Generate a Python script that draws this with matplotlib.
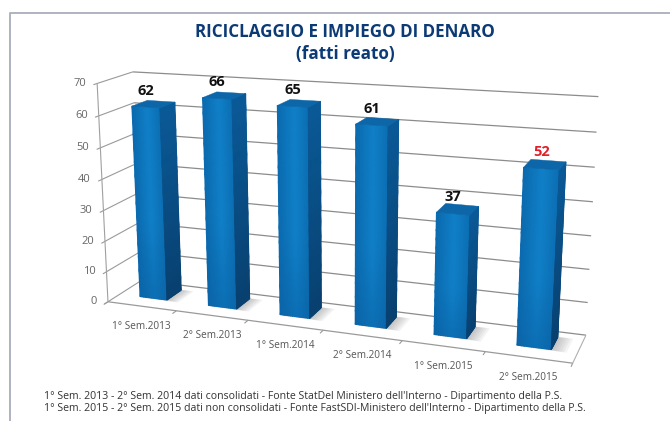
import numpy as np
import matplotlib
matplotlib.use('Agg')
import matplotlib.pyplot as plt
from matplotlib.colors import LinearSegmentedColormap
from matplotlib.patches import Polygon

plt.rcParams['font.family'] = ['Open Sans', 'DejaVu Sans']

categories = ['1° Sem.2013', '2° Sem.2013', '1° Sem.2014',
              '2° Sem.2014', '1° Sem.2015', '2° Sem.2015']
values = [62, 66, 65, 61, 37, 52]
label_colors = ['#111111', '#111111', '#111111', '#111111', '#111111', '#e0202c']
y_ticks = [0, 10, 20, 30, 40, 50, 60, 70]

title_1 = 'RICICLAGGIO E IMPIEGO DI DENARO'
title_2 = '(fatti reato)'
note_1 = "1° Sem. 2013 - 2° Sem. 2014 dati consolidati - Fonte StatDel Ministero dell'Interno - Dipartimento della P.S."
note_2 = "1° Sem. 2015 - 2° Sem. 2015 dati non consolidati - Fonte FastSDI-Ministero dell'Interno - Dipartimento della P.S."

# bar footprint, in category units and in floor depth (0 front, 1 back)
half_w = 0.2
d_front, d_back = 0.35, 0.8

# camera fit: (category pos, depth, value) -> pixel in the figure
calib = [
    (0, 0, 0, 110, 301), (0, 0, 70, 96, 81), (0, 1, 0, 140, 284), (0, 1, 70, 137, 70),
    (6, 1, 0, 586, 332), (6, 1, 70, 600, 95), (6, 0, 0, 572, 364),
    (1, 0, 0, 177, 312), (2, 0, 0, 248, 322), (3, 0, 0, 323, 332),
    (4, 0, 0, 402, 341), (5, 0, 0, 484, 352),
    (0, 0, 30, 104, 210), (6, 1, 30, 592, 234),
    (0.3, d_front, 62, 132, 107), (0.7, d_front, 62, 160, 107), (0.3, d_front, 0, 140, 297),
    (1.3, d_front, 66, 203, 98), (1.7, d_front, 66, 232, 98), (1.3, d_front, 0, 209, 305),
    (2.3, d_front, 65, 277, 107), (2.7, d_front, 65, 308, 107), (2.3, d_front, 0, 281, 314),
    (3.3, d_front, 61, 357, 124), (3.7, d_front, 61, 388, 126), (3.3, d_front, 0, 356, 324),
    (4.3, d_front, 37, 437, 214), (4.7, d_front, 37, 472, 215), (4.3, d_front, 0, 434, 335),
    (5.3, d_front, 52, 524, 166), (5.7, d_front, 52, 557, 168), (5.3, d_front, 0, 517, 345),
    (0.7, d_front, 0, 163, 299), (1.7, d_front, 0, 238, 308), (2.7, d_front, 0, 310, 318),
    (3.7, d_front, 0, 387, 328), (4.7, d_front, 0, 467, 339), (5.7, d_front, 0, 551, 349),
    (0.7, d_back, 62, 173, 103), (0.7, d_back, 0, 181, 288),
    (1.7, d_back, 66, 244, 95), (1.7, d_back, 0, 249, 297),
    (2.7, d_back, 65, 319, 103), (2.7, d_back, 0, 321, 307),
    (3.7, d_back, 61, 398, 122), (3.7, d_back, 0, 397, 317),
    (4.7, d_back, 37, 477, 210), (4.7, d_back, 0, 475, 328),
    (5.7, d_back, 52, 565, 163), (5.7, d_back, 0, 559, 338),
]


def fit_camera(points):
    A, b = [], []
    for x, d, v, px, py in points:
        A.append([x, d, v, 1, 0, 0, 0, 0, -px * x, -px * d, -px * v])
        b.append(px)
        A.append([0, 0, 0, 0, x, d, v, 1, -py * x, -py * d, -py * v])
        b.append(py)
    p = np.linalg.lstsq(np.array(A, float), np.array(b, float), rcond=None)[0]
    return np.append(p, 1).reshape(3, 4)


cam = fit_camera(calib)


def proj(x, d, v):
    x, d, v = np.broadcast_arrays(x, d, v)
    w = cam[2, 0] * x + cam[2, 1] * d + cam[2, 2] * v + cam[2, 3]
    px = (cam[0, 0] * x + cam[0, 1] * d + cam[0, 2] * v + cam[0, 3]) / w
    py = (cam[1, 0] * x + cam[1, 1] * d + cam[1, 2] * v + cam[1, 3]) / w
    return px, py


def seg(ax, a, b, color='#8c8c8c', lw=0.9):
    xa, ya = proj(*a)
    xb, yb = proj(*b)
    ax.plot([xa, xb], [ya, yb], color=color, lw=lw, solid_capstyle='butt', zorder=1)


fig = plt.figure(figsize=(6.7, 4.21), dpi=100)
ax = fig.add_axes([0, 0, 1, 1])
ax.set_xlim(0, 670)
ax.set_ylim(421, 0)
ax.axis('off')

# page frame
ax.plot([9.5, 9.5, 670], [421, 12.5, 12.5], color='#a9adbb', lw=1.3, zorder=1)

# walls and floor
for t in y_ticks:
    seg(ax, (0, 1, t), (6, 1, t))
    seg(ax, (0, 0, t), (0, 1, t), color='#9a9a9a', lw=0.8)
    seg(ax, (0, 0, t), (0, -0.1, t), color='#9a9a9a', lw=0.8)
    px, py = proj(0, 0, t)
    ax.text(px - 11, py, str(t), ha='right', va='center', fontsize=8, color='#666666')
seg(ax, (0, 0, 0), (0, 0, 70), color='#a0a0a0', lw=0.8)
seg(ax, (0, 0, 0), (6, 0, 0), color='#9a9a9a', lw=0.9)
seg(ax, (6, 0, 0), (6, 1, 0), color='#b0b0b0', lw=0.8)
for i in range(7):
    seg(ax, (i, 0, 0), (i, -0.12, 0), color='#9a9a9a', lw=0.8)

for i, cat in enumerate(categories):
    px, py = proj(i + 0.5, 0, 0)
    ax.text(px, py + 20, cat, ha='center', va='center', fontsize=7.2, color='#555555')

front_cmap = LinearSegmentedColormap.from_list('front', ['#0a5c9e', '#0c6eb3', '#1080c8'])
side_cmap = LinearSegmentedColormap.from_list('side', ['#08406f', '#0a5a98'])

for i, val in enumerate(values):
    x0, x1 = i + 0.5 - half_w, i + 0.5 + half_w

    # soft shadow on the floor, right of the bar
    for extra in [0.03, 0.06, 0.09, 0.12, 0.15, 0.18]:
        sx, sy = proj([x0 + 0.05, x1 + extra, x1 + extra, x0 + 0.05],
                      [d_front - extra * 0.2, d_front - extra * 0.2, d_back + extra * 0.1, d_back + extra * 0.1], 0)
        ax.add_patch(Polygon(np.c_[sx, sy], fc='#707070', ec='none', alpha=0.08, zorder=2))

    # front face: lighter in the middle and towards the top
    uu, tt = np.meshgrid(np.linspace(0, 1, 15), np.linspace(0, 1, 15))
    fx, fy = proj(x0 + (x1 - x0) * uu, d_front, val * tt)
    shade = (1 - np.abs(uu - 0.55) * 1.1) * (0.55 + 0.45 * np.minimum(tt * 2.5, 1))
    ax.pcolormesh(fx, fy, shade, cmap=front_cmap, vmin=0, vmax=1, zorder=3, shading='gouraud')

    # side face: darkens downwards
    sx, sy = proj(x1, d_front + (d_back - d_front) * uu, val * tt)
    ax.pcolormesh(sx, sy, tt, cmap=side_cmap, vmin=0, vmax=1, zorder=3, shading='gouraud')

    # top face
    tx, ty = proj([x0, x1, x1, x0], [d_front, d_front, d_back, d_back], val)
    ax.add_patch(Polygon(np.c_[tx, ty], fc='#0d66a8', ec='#0d66a8', lw=0.3, zorder=4))

    lx, ly = proj(i + 0.5, d_front, val)
    ax.text(lx, ly - 16.5, str(val), ha='center', va='center', fontsize=10.5,
            fontweight='bold', color=label_colors[i], zorder=5)

ax.text(345, 32, title_1, ha='center', va='center', fontsize=12.25, fontweight='bold', color='#0b3a75')
ax.text(345, 54, title_2, ha='center', va='center', fontsize=12.25, fontweight='bold', color='#0b3a75')
ax.text(44, 397, note_1, ha='left', va='center', fontsize=7.6, color='#333333')
ax.text(44, 409, note_2, ha='left', va='center', fontsize=7.6, color='#333333')

fig.savefig('out.png', dpi=100)
